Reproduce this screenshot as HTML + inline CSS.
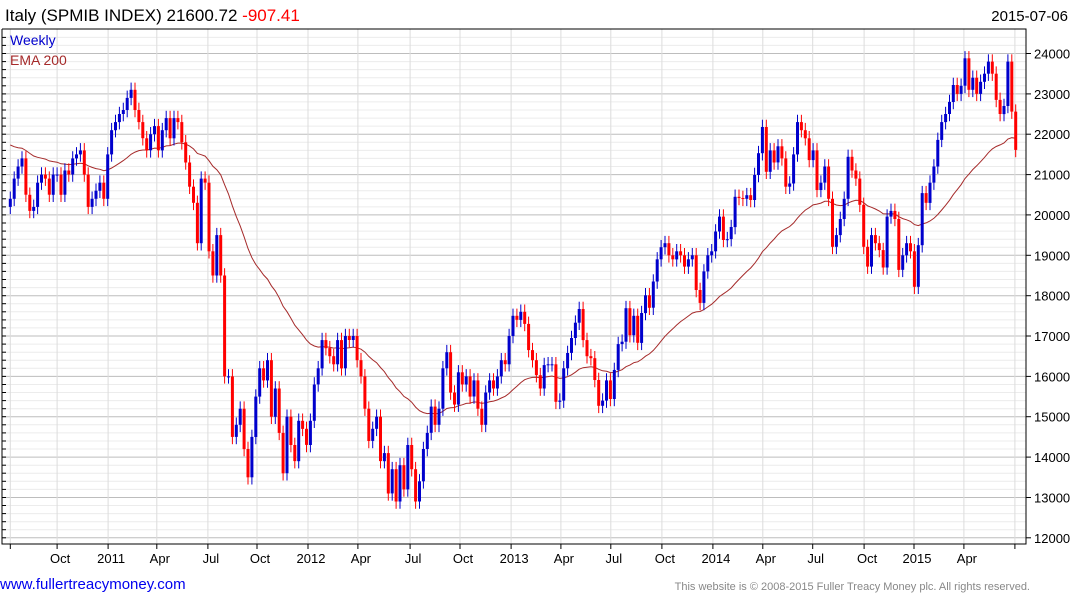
<!DOCTYPE html>
<html><head><meta charset="utf-8">
<style>
body{margin:0;background:#fff;width:1075px;height:600px;overflow:hidden;font-family:"Liberation Sans",Arial,sans-serif}
svg{position:absolute;left:0;top:0}
</style></head>
<body>
<svg id="c" width="1075" height="600" xmlns="http://www.w3.org/2000/svg">
<text x="5" y="21" font-size="17" fill="#000">Italy (SPMIB INDEX) 21600.72 <tspan fill="#ff0000">-907.41</tspan></text>
<text x="1068" y="21" font-size="15" text-anchor="end" fill="#000">2015-07-06</text>
<g id="grid"></g>
<g id="ema"></g>
<g id="candles"></g>
<g id="axes"></g>
<text x="10" y="45" font-size="14" fill="#0000cc">Weekly</text>
<text x="10" y="65" font-size="14" fill="#a52a2a">EMA 200</text>
<text x="0" y="589" font-size="15" fill="#0000ee">www.fullertreacymoney.com</text>
<text x="1030" y="590" font-size="11" text-anchor="end" fill="#888">This website is © 2008-2015 Fuller Treacy Money plc. All rights reserved.</text>
</svg>
<script>
const closes = [
20400,20900,21200,21400,20500,20100,20200,20800,21000,20900,20500,21000,21000,20500,21100,21000,21400,21500,21600,21000,20200,20400,20600,20800,20400,
21500,22100,22300,22500,22600,22900,23100,22600,22300,21900,21600,22000,22200,21600,22100,22400,21900,22400,22300,21800,21300,20700,20300,19300,20900,20800,
19100,18500,19500,18500,16000,16000,14500,14800,15200,14200,13500,14500,15500,16200,15900,16400,15000,15700,14600,13600,15000,14300,13900,14900,14700,14300,
14900,15800,16200,16900,16700,16500,16300,16900,16200,17000,16900,17000,16400,16000,15200,14400,14700,15000,13900,14100,13100,13700,12900,13800,13200,14300,13700,
12900,13400,14200,14600,15250,14800,15200,16200,16600,15600,15300,16100,15800,16000,15500,15900,15200,14800,15600,15900,15700,16000,16400,16300,17000,17500,
17400,17600,17300,16650,16400,16030,15700,16280,16300,16300,15370,15400,16200,16580,16950,17330,17670,16900,16500,16450,15910,15270,15400,15900,15440,16160,
16800,16860,17690,17020,17500,16830,17570,18010,17700,18350,18900,19200,19300,19000,18900,19100,19000,
18720,18900,19000,18140,17820,18600,19000,19100,19590,19960,
19380,19400,19700,20450,20420,20400,20490,20370,20990,21530,
22180,21070,21600,21300,21700,21400,20700,20780,21500,22300,
22100,21900,21360,21600,20620,20800,21200,20400,19210,19500,
19900,20400,21440,21100,20900,20250,19210,18720,19500,19300,
19130,18700,19960,20100,19900,18640,19000,19300,19100,18220,
19250,20540,20300,20800,21200,21860,22300,22500,22800,23220,
23000,23200,23880,23100,23400,23000,23300,23500,23800,23500,
22850,22500,22700,23800,22560,21610];
const firstOpen = 20200;
const emaSeed = 21800;
const emaPeriod = 40;
const yTicks = [12000,13000,14000,15000,16000,17000,18000,19000,20000,21000,22000,23000,24000];
const xTickWeeks = [0,12.0,25.1,37.6,50.7,63.3,76.4,89.2,102.6,115.4,128.5,141.3,154.1,167.2,180.3,193.1,205.9,219.1,231.9,244.7,257.8];
const xTickLabels = ["","Oct","2011","Apr","Jul","Oct","2012","Apr","Jul","Oct","2013","Apr","Jul","Oct","2014","Apr","Jul","Oct","2015","Apr",""];

const NS="http://www.w3.org/2000/svg";
const L=2,R=1026,T=29,B=544;
const n=closes.length;
const step=(1015.7-10.3)/(n-1);
function x(i){return 10.3+i*step;}
function y(v){return 53.5+(24000-v)*0.04036;}
function mk(tag,at,parent){const e=document.createElementNS(NS,tag);for(const k in at)e.setAttribute(k,at[k]);parent.appendChild(e);return e;}
const grid=document.getElementById('grid'),axes=document.getElementById('axes'),cg=document.getElementById('candles'),eg=document.getElementById('ema');
// minor horizontal grid every 200
for(let v=12000;v<=24400;v+=200){
  if(y(v)<T||y(v)>B)continue;
  const major=v%1000===0;
  const ln=mk('line',{x1:L,x2:R,y1:y(v).toFixed(1),y2:y(v).toFixed(1),stroke:major?'#bdbdbd':'#ececec','stroke-width':1},grid);
  
  
  const tk=mk('line',{x1:L,x2:L+4,y1:y(v).toFixed(1),y2:y(v).toFixed(1),stroke:'#000'},axes);
  
  
}
xTickWeeks.forEach((w,k)=>{
  const xx=x(w).toFixed(1);
  const g=mk('line',{x1:xx,x2:xx,y1:T,y2:B,stroke:'#dcdcdc','stroke-width':1},grid);
  
  
  const t=mk('line',{x1:xx,x2:xx,y1:B,y2:B+5,stroke:'#000'},axes);
  
  
  if(xTickLabels[k]){
    const tx=mk('text',{x:(x(w)+3).toFixed(1),y:563,'font-size':13,'text-anchor':'middle',fill:'#000'},axes);
    tx.textContent=xTickLabels[k];
    
    
  }
});
yTicks.forEach(v=>{
  const tk=mk('line',{x1:R,x2:R+5,y1:y(v).toFixed(1),y2:y(v).toFixed(1),stroke:'#000'},axes);
  
  
  const tx=mk('text',{x:R+8,y:(y(v)+5).toFixed(1),'font-size':13,fill:'#000'},axes);
  tx.textContent=v;
  
  
});
const fr=mk('polyline',{points:`${L},${T} ${R},${T} ${R},${B} ${L},${B} ${L},${T}`,fill:'none',stroke:'#000','stroke-width':1},axes);


// EMA
let e=emaSeed;const a=2/(emaPeriod+1);const pts=[];
for(let i=0;i<n;i++){e=e+a*(closes[i]-e);pts.push(x(i).toFixed(1)+','+y(e).toFixed(1));}
const pl=mk('polyline',{points:pts.join(' '),fill:'none',stroke:'#a52a2a','stroke-width':1},eg);


// candles
for(let i=0;i<n;i++){
  const o=i===0?firstOpen:closes[i-1],c=closes[i];
  const up=c>=o,col=up?'#0000cc':'#ff0000';
  const hi=Math.max(o,c)+180,lo=Math.min(o,c)-180;
  const xx=x(i);
  const w=mk('line',{x1:xx.toFixed(1),x2:xx.toFixed(1),y1:y(hi).toFixed(1),y2:y(lo).toFixed(1),stroke:col,'stroke-width':1},cg);
  
  
  const top=y(Math.max(o,c)),h=Math.max(1,Math.abs(y(o)-y(c)));
  const r=mk('rect',{x:(xx-1.5).toFixed(1),y:top.toFixed(1),width:3,height:h.toFixed(1),fill:col},cg);
  
  
}
</script>
</body></html>
